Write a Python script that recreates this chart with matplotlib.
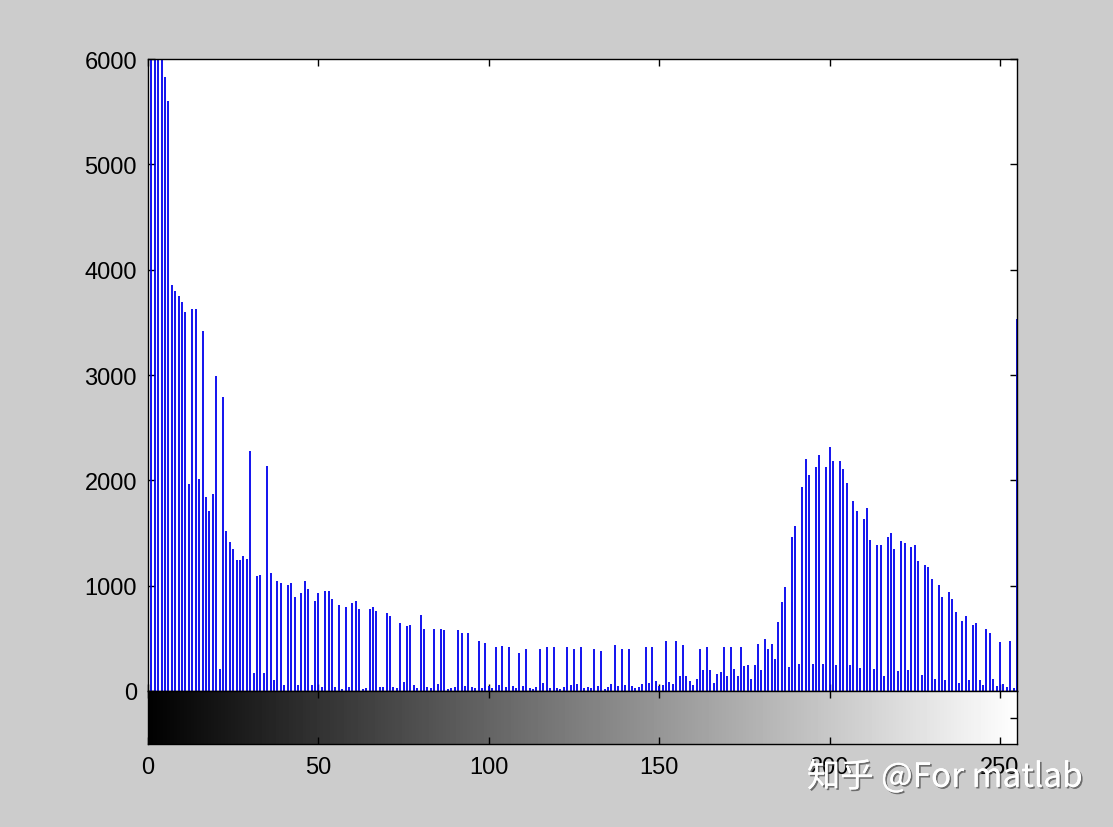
import numpy as np
import matplotlib
matplotlib.use("Agg")
import matplotlib.pyplot as plt
import matplotlib.patheffects as pe

plt.rcParams['font.family'] = ['Liberation Sans', 'DejaVu Sans']

# pixel counts per gray level (0..255); bins 0-4 run past the top
counts = [
    6900, 6800, 6700, 6600, 6500, 5830, 5600, 3850, 3800, 3750, 3690, 3595, 1965, 3630, 3630, 2010,
    3420, 1840, 1710, 1870, 2995, 210, 2790, 1520, 1410, 1350, 1240, 1240, 1285, 1255, 2280, 175,
    1095, 1100, 175, 2140, 1125, 100, 1040, 1025, 60, 1005, 1030, 890, 60, 930, 1040, 968,
    60, 858, 930, 40, 947, 947, 870, 40, 820, 20, 798, 40, 835, 850, 775, 20,
    30, 775, 795, 760, 40, 40, 740, 715, 40, 30, 646, 85, 620, 630, 60, 30,
    720, 590, 40, 30, 590, 70, 590, 580, 20, 30, 40, 580, 555, 50, 555, 40,
    30, 478, 30, 455, 50, 30, 413, 60, 430, 40, 413, 50, 30, 360, 50, 397,
    30, 20, 40, 397, 80, 413, 30, 413, 30, 20, 40, 413, 60, 397, 70, 420,
    30, 40, 30, 397, 50, 380, 20, 40, 70, 435, 50, 397, 60, 397, 50, 30,
    40, 70, 413, 80, 413, 98, 50, 60, 478, 90, 70, 478, 140, 435, 146, 98,
    60, 115, 400, 200, 415, 200, 80, 160, 180, 415, 140, 415, 209, 140, 415, 240,
    250, 110, 250, 447, 200, 495, 400, 447, 300, 652, 844, 984, 225, 1459, 1570, 260,
    1934, 2203, 2051, 260, 2130, 2241, 260, 2124, 2313, 2180, 250, 2180, 2108, 1971, 250, 1807,
    1712, 220, 1630, 1740, 1430, 210, 1386, 1386, 146, 1459, 1500, 1348, 193, 1427, 1408, 203,
    1364, 1388, 1237, 150, 1196, 1174, 1063, 117, 1006, 889, 100, 937, 873, 747, 80, 668,
    709, 105, 630, 646, 100, 60, 589, 551, 110, 50, 468, 70, 40, 478, 30, 3530,
]
levels = list(range(256))
y_ticks = [0, 1000, 2000, 3000, 4000, 5000, 6000]
x_ticks = [0, 50, 100, 150, 200, 250]
watermark = "知乎 @For matlab"

assert len(counts) == len(levels)

fig = plt.figure(figsize=(11.13, 8.28), dpi=100, facecolor='#cccccc')

# stem axes
ax = fig.add_axes([148 / 1113, 1 - 692 / 828, 869 / 1113, 632 / 828])
ax.vlines(levels, 0, counts, colors='#0000ee', linewidth=1.3)
ax.set_xlim(0, 255)
ax.set_ylim(0, 6000)
ax.set_yticks(y_ticks)
ax.set_xticks(x_ticks)
ax.tick_params(axis='both', direction='in', length=5, width=1, labelsize=17,
               right=True, top=True, bottom=True)
ax.tick_params(axis='x', labelbottom=False)
ax.tick_params(axis='y', pad=8)
for s in ax.spines.values():
    s.set_linewidth(1)
    s.set_color('black')

# gray colorbar under the histogram
cax = fig.add_axes([148 / 1113, 1 - 745 / 828, 869 / 1113, 53 / 828])
cax.imshow(np.array([levels]), cmap='gray', aspect='auto', vmin=0, vmax=255,
           extent=[-0.5, 255.5, 0, 1], interpolation='nearest')
cax.set_xlim(0, 255)
cax.set_ylim(0, 1)
cax.set_xticks(x_ticks)
cax.set_yticks([0.5])
cax.set_yticklabels([])
cax.tick_params(axis='both', direction='in', length=5, width=1, labelsize=17,
                right=True, top=True, left=False)
cax.tick_params(axis='x', pad=9)
for s in cax.spines.values():
    s.set_linewidth(1)
    s.set_color('black')

fig.text(0.849, 0.060, watermark, color='white', fontsize=24, ha='center', va='center',
         family=['Noto Sans CJK SC', 'DejaVu Sans'],
         path_effects=[pe.withSimplePatchShadow(offset=(1.2, -1.2), shadow_rgbFace='#444444', alpha=0.7),
                       pe.Normal()])

fig.savefig('out.png', dpi=100, facecolor=fig.get_facecolor())
